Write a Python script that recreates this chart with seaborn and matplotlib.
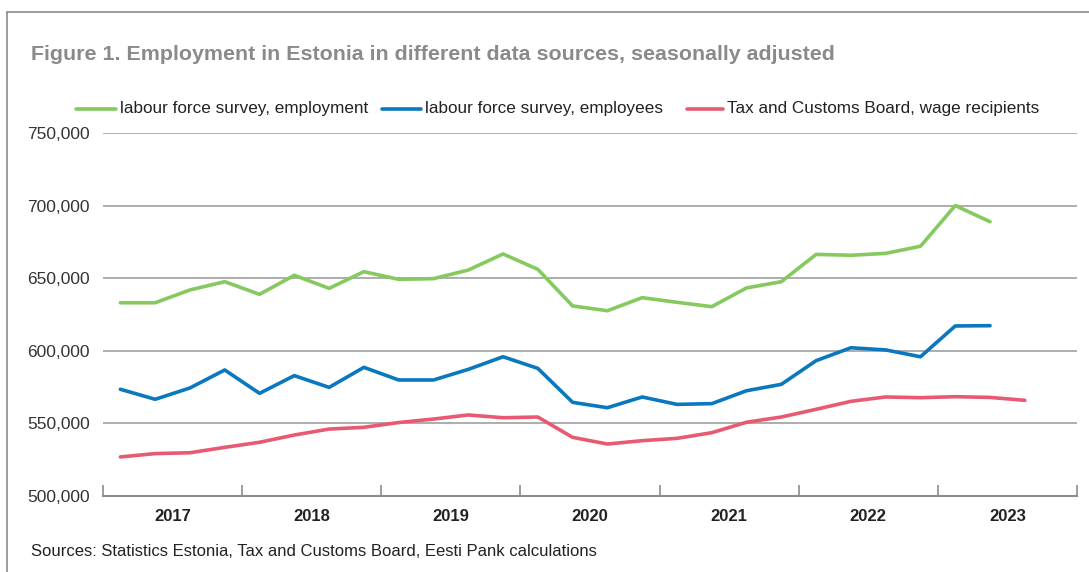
import matplotlib
matplotlib.use("Agg")
import matplotlib.pyplot as plt
from matplotlib.lines import Line2D
import numpy as np
import pandas as pd
import seaborn as sns

# Quarterly series, 2017 Q1 onwards, seasonally adjusted
lfs_employment = [633100, 633100, 641900, 647600, 638900, 652000, 643000, 654500,
                  649200, 649700, 655600, 666700, 656100, 630900, 627600, 636600,
                  633400, 630400, 643300, 647600, 666400, 665800, 667100, 672000,
                  700000, 688900]
lfs_employees = [573500, 566600, 574400, 586800, 570700, 582900, 574800, 588600,
                 579900, 579900, 587200, 595900, 587900, 564500, 560800, 568200,
                 563100, 563600, 572500, 576900, 593200, 602100, 600600, 595900,
                 617100, 617300]
tax_wage_recipients = [526900, 529200, 529800, 533500, 537000, 542000, 546100, 547300,
                       550600, 553000, 555800, 553900, 554400, 540400, 535800, 538100,
                       539700, 543600, 550800, 554400, 559700, 565200, 568200, 567700,
                       568400, 567900, 565900]

series_names = ["labour force survey, employment",
                "labour force survey, employees",
                "Tax and Customs Board, wage recipients"]
series_colors = ["#85c95f", "#0a78be", "#e85a72"]
years = ["2017", "2018", "2019", "2020", "2021", "2022", "2023"]
y_ticks = [500000, 550000, 600000, 650000, 700000, 750000]

rows = []
for name, values in zip(series_names, [lfs_employment, lfs_employees, tax_wage_recipients]):
    for q, v in enumerate(values):
        rows.append({"quarter": q + 0.5, "value": v, "series": name})
df = pd.DataFrame(rows)

sns.set_theme(style="white")
plt.rcParams["font.family"] = ["Liberation Sans", "DejaVu Sans"]

W, H = 1089, 572
fig = plt.figure(figsize=(W / 100, H / 100), dpi=100)
ax = fig.add_axes([103 / W, 1 - 496 / H, (1077 - 103) / W, (496 - 133) / H])

sns.lineplot(data=df, x="quarter", y="value", hue="series",
             palette=dict(zip(series_names, series_colors)),
             linewidth=2.6, ax=ax, legend=False, zorder=3)

ax.set_xlim(0, 4 * len(years))
ax.set_ylim(y_ticks[0], y_ticks[-1])
ax.set_yticks(y_ticks)
ax.set_yticklabels([f"{v:,}" for v in y_ticks], fontsize=12.5, color="#333333")
ax.yaxis.grid(True, color="#a0a0a0", linewidth=1.2, zorder=1)
ax.tick_params(axis="y", length=0, pad=9.5)

ax.set_xticks(np.arange(0, 4 * len(years) + 1, 4))
ax.set_xticklabels([])
ax.set_xticks(np.arange(2, 4 * len(years), 4), minor=True)
ax.set_xticklabels(years, minor=True, fontsize=12, fontweight="bold", color="#222222")
ax.tick_params(axis="x", which="major", direction="in", length=8, width=1.2,
               color="#8c8c8c", bottom=True)
ax.tick_params(axis="x", which="minor", length=0, pad=9.5)
ax.set_xlabel("")
ax.set_ylabel("")

for side in ["top", "right", "left"]:
    ax.spines[side].set_visible(False)
ax.spines["bottom"].set_color("#8c8c8c")
ax.spines["bottom"].set_linewidth(1.5)

# Outer frame: left and top rules
fig.add_artist(Line2D([7 / W, 7 / W], [0, 1 - 12 / H], color="#8c8c8c", linewidth=1.2))
fig.add_artist(Line2D([7 / W, 1], [1 - 12 / H, 1 - 12 / H], color="#8c8c8c", linewidth=1.2))

fig.text(31 / W, 1 - 55 / H,
         "Figure 1. Employment in Estonia in different data sources, seasonally adjusted",
         fontsize=15.4, fontweight="bold", color="#8a8a8a", va="center", ha="left")

# Legend row
legend_x = [(76, 116), (382, 421), (687, 723)]
for (x0, x1), name, color in zip(legend_x, series_names, series_colors):
    fig.add_artist(Line2D([x0 / W, x1 / W], [1 - 109 / H] * 2, color=color, linewidth=2.6))
    fig.text((x1 + 4) / W, 1 - 109 / H, name, fontsize=12.3, color="#222222",
             va="center", ha="left")

fig.text(31 / W, 1 - 552 / H,
         "Sources: Statistics Estonia, Tax and Customs Board, Eesti Pank calculations",
         fontsize=12, color="#222222", va="center", ha="left")

fig.savefig("out.png", dpi=100, facecolor="white")
